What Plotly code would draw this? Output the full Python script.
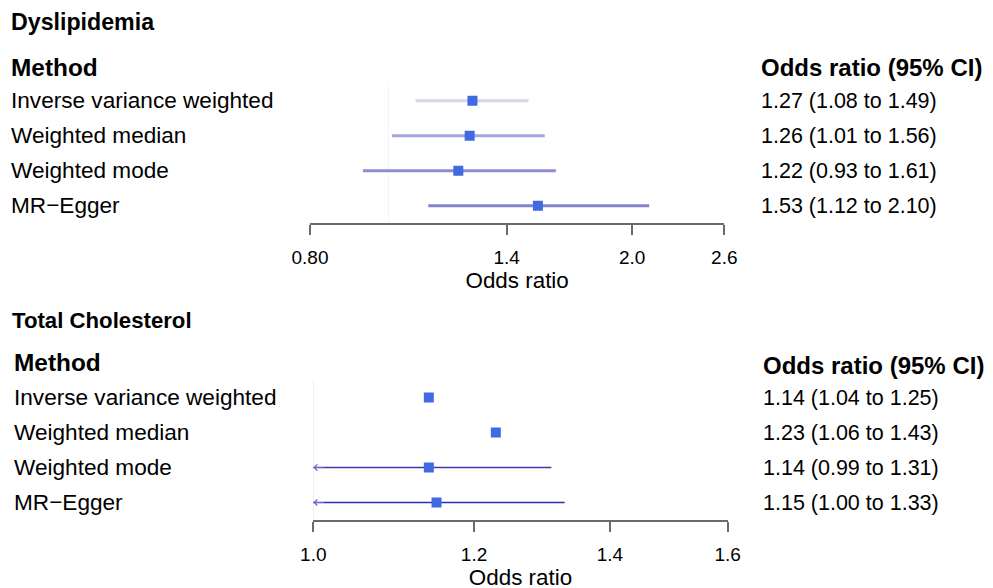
import math
import plotly.graph_objects as go

# ---------------- data ----------------
methods = ["Inverse variance weighted", "Weighted median", "Weighted mode", "MR\u2212Egger"]

dys_or = [1.27, 1.26, 1.22, 1.53]
dys_lo = [1.08, 1.01, 0.93, 1.12]
dys_hi = [1.49, 1.56, 1.61, 2.10]

chol_or = [1.14, 1.23, 1.14, 1.15]
chol_lo = [1.04, 1.06, 0.99, 1.00]
chol_hi = [1.25, 1.43, 1.31, 1.33]

dys_ticks = [0.80, 1.4, 2.0, 2.6]
dys_ticktext = ["0.80", "1.4", "2.0", "2.6"]
chol_ticks = [1.0, 1.2, 1.4, 1.6]
chol_ticktext = ["1.0", "1.2", "1.4", "1.6"]

titles = ["Dyslipidemia", "Total Cholesterol"]

# ---------------- styles ----------------
W, H = 993, 588
OFF = 8  # page offset of the figure in the browser
FONT = "Liberation Sans, Arial, sans-serif"
PT_COLOR = "#4169E1"
dys_line_colors = ["#d6d6ef", "#a4a4dc", "#8d8dd3", "#8383cf"]
chol_line_colors = ["#ffffff", "#ffffff", "#3a3aaa", "#2e2ea8"]
AX_COLOR = "#6a6a6a"


def fx(px):
    return (px - OFF) / W


def fy(py):
    return 1 - (py - OFF) / H


rows = [4, 3, 2, 1]

fig = go.Figure()


def add_panel(xs, ys, ors, los, his, xmin, line_colors, line_w, ref_color):
    # reference line at OR = 1
    fig.add_trace(go.Scatter(x=[1, 1], y=[0.5, 4.5], mode="lines",
                             line=dict(color=ref_color, width=1),
                             xaxis=xs, yaxis=ys, hoverinfo="skip"))
    for r, lo, hi, c in zip(rows, los, his, line_colors):
        clipped = lo <= xmin
        x0 = xmin if clipped else lo
        fig.add_trace(go.Scatter(x=[x0, hi], y=[r, r], mode="lines",
                                 line=dict(color=c, width=line_w),
                                 xaxis=xs, yaxis=ys, hoverinfo="skip"))
        if clipped:
            fig.add_annotation(x=math.log10(x0), y=r, xref=xs, yref=ys,
                               ax=12, ay=0, axref="pixel", ayref="pixel",
                               text="", showarrow=True, arrowhead=4,
                               arrowsize=1.0, arrowwidth=1.2,
                               arrowcolor="#6a6ad0", standoff=0)
    fig.add_trace(go.Scatter(x=ors, y=rows, mode="markers",
                             marker=dict(symbol="square", size=10, color=PT_COLOR,
                                         line=dict(width=0)),
                             xaxis=xs, yaxis=ys, hoverinfo="skip"))


add_panel("x", "y", dys_or, dys_lo, dys_hi, dys_ticks[0], dys_line_colors, 3, "#f5f5f5")
add_panel("x2", "y2", chol_or, chol_lo, chol_hi, chol_ticks[0], chol_line_colors, 1.6, "#e2e2e2")

axis_common = dict(type="log", showgrid=False, zeroline=False, showline=True,
                   linecolor=AX_COLOR, linewidth=1.5, ticks="outside", ticklen=10,
                   tickwidth=1.5, tickcolor=AX_COLOR, ticklabelstandoff=6,
                   tickfont=dict(family=FONT, size=19, color="black"),
                   title=dict(text="Odds ratio", font=dict(family=FONT, size=22.4, color="black"),
                              standoff=2))

fig.update_layout(
    width=W, height=H, autosize=False,
    margin=dict(l=0, r=0, t=0, b=0, autoexpand=False),
    paper_bgcolor="white", plot_bgcolor="white", showlegend=False,
    xaxis=dict(axis_common, domain=[fx(310), fx(724.3)], anchor="y",
               range=[math.log10(dys_ticks[0]) - 1e-6, math.log10(dys_ticks[-1]) + 1e-6],
               tickvals=dys_ticks, ticktext=dys_ticktext),
    yaxis=dict(domain=[fy(223.3), fy(83.3)], range=[0.5, 4.5], visible=False, anchor="x"),
    xaxis2=dict(axis_common, domain=[fx(313.3), fx(727.7)], anchor="y2",
                range=[math.log10(chol_ticks[0]) - 1e-6, math.log10(chol_ticks[-1]) + 1e-6],
                tickvals=chol_ticks, ticktext=chol_ticktext),
    yaxis2=dict(domain=[fy(520), fy(380)], range=[0.5, 4.5], visible=False, anchor="x2"),
)


def txt(x, y, s, size, bold=False, yref="paper"):
    fig.add_annotation(x=x, y=y, xref="paper", yref=yref, text=("<b>%s</b>" % s) if bold else s,
                       showarrow=False, xanchor="left", yanchor="middle",
                       font=dict(family=FONT, size=size, color="black"))


# top panel text
txt(fx(9), fy(22), titles[0], 23.2, True)
txt(fx(9), fy(67), "Method", 24.4, True)
txt(fx(759), fy(67), "Odds ratio (95% CI)", 24, True)
for r, m, o, lo, hi in zip(rows, methods, dys_or, dys_lo, dys_hi):
    txt(fx(9), r, m, 22.6, yref="y")
    txt(fx(759), r, "%.2f (%.2f to %.2f)" % (o, lo, hi), 21.5, yref="y")

# bottom panel text
txt(fx(10), fy(320), titles[1], 22.2, True)
txt(fx(12), fy(363), "Method", 24.4, True)
txt(fx(760.5), fy(365), "Odds ratio (95% CI)", 24, True)
for r, m, o, lo, hi in zip(rows, methods, chol_or, chol_lo, chol_hi):
    txt(fx(12), r, m, 22.6, yref="y2")
    txt(fx(760.5), r, "%.2f (%.2f to %.2f)" % (o, lo, hi), 21.5, yref="y2")

fig.write_html("out.html")
